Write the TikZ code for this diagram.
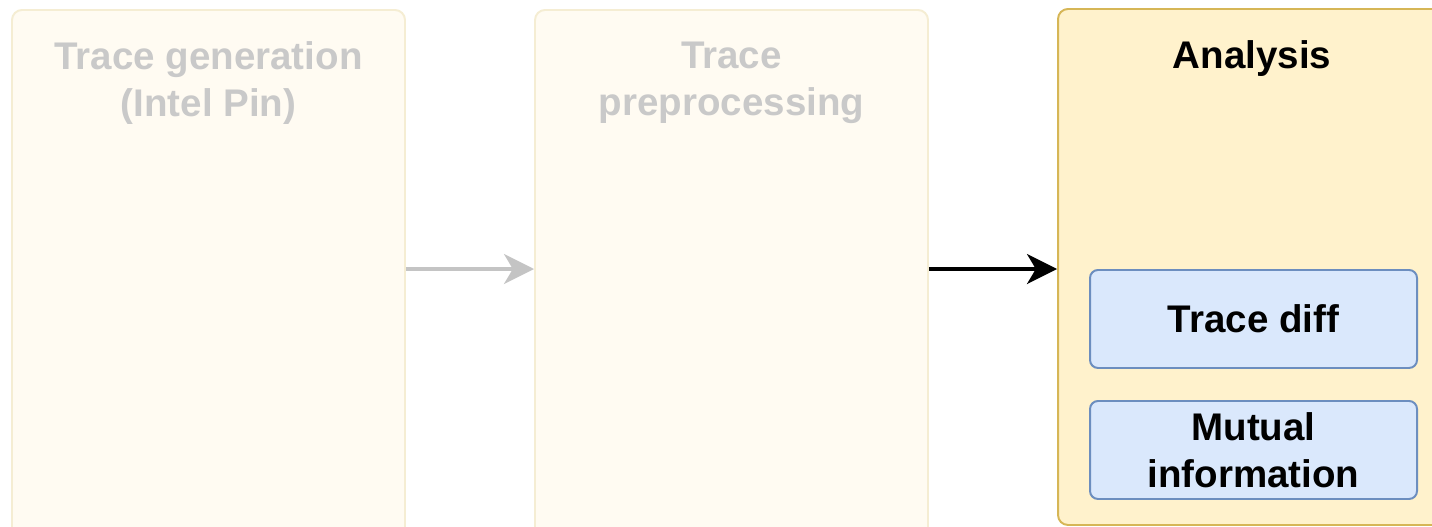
\documentclass[tikz,border=0pt]{standalone}
\usepackage{fontspec}
\setmainfont{Liberation Sans}
\usetikzlibrary{arrows.meta,positioning}
\definecolor{anafill}{HTML}{FFF2CC}
\definecolor{anaborder}{HTML}{D6B656}
\definecolor{fadefill}{HTML}{FFFBF2}
\definecolor{fadeborder}{HTML}{F5EDD3}
\definecolor{fadetext}{HTML}{C9C9C9}
\definecolor{fadearrow}{HTML}{C4C4C4}
\definecolor{subfill}{HTML}{DAE8FC}
\definecolor{subborder}{HTML}{6C8EBF}
\tikzset{
  >={Stealth[length=7.5mm,width=7.5mm,inset=2.2mm]},
  % stufen
  stage/.style={draw=anaborder,fill=anafill,line width=1.4pt,rounded corners=2.5mm},
  faded/.style={draw=fadeborder,fill=fadefill},
  ttl/.style={font=\fontsize{27.4}{33.5}\selectfont\bfseries,align=center,inner sep=0pt},
  sub/.style={draw=subborder,fill=subfill,line width=1.4pt,rounded corners=2mm,
              minimum width=8.175cm,minimum height=2.45cm,align=center,
              font=\fontsize{27.4}{33.5}\selectfont\bfseries},
  flow/.style={->,line width=2.6pt},
}
\begin{document}
\begin{tikzpicture}
\useasboundingbox (0,0) rectangle (35.8,13.175);
  \node[stage,faded,minimum width=9.825cm,minimum height=13.4cm] (gen) at (5.2125,6.225) {};
  \node[stage,faded,minimum width=9.825cm,minimum height=13.4cm] (prep) at (18.2875,6.225) {};
  \node[stage,minimum width=9.7cm,minimum height=12.9cm] (ana) at (31.3,6.5) {};
  \node[ttl,text=fadetext] (gent) at (5.2125,11.1) {Trace generation\\(Intel Pin)};
  \node[ttl,text=fadetext] (prept) at (18.2875,11.1) {Trace\\preprocessing};
  \node[ttl] (anat) at (31.3,11.7) {Analysis};
  \node[sub] (diff) at (31.3375,5.2) {Trace diff};
  \node[sub] (mi) at (31.3375,1.925) {Mutual\\information};
  \draw[flow,draw=fadearrow] (gen.east |- diff.north) -- (prep.west |- diff.north);
  \draw[flow] (prep.east |- diff.north) -- (ana.west |- diff.north);
\end{tikzpicture}
\end{document}
